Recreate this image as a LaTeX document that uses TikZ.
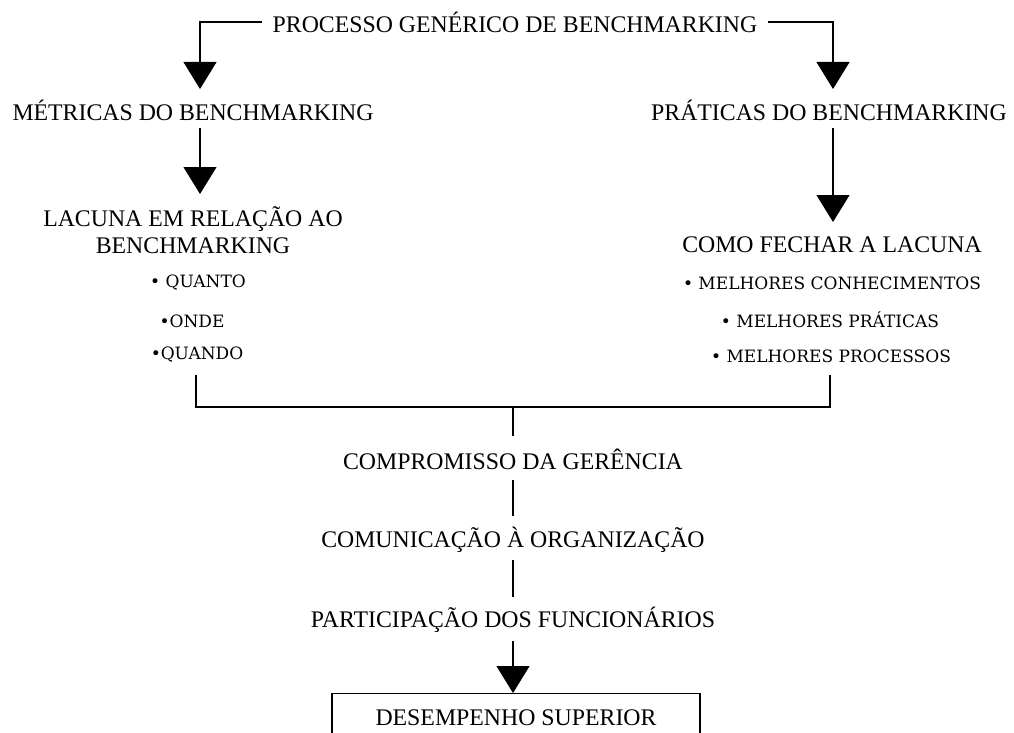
\documentclass[tikz,border=0pt]{standalone}
\usepackage{fontspec}
\setmainfont{Liberation Serif}
\newfontfamily\bulletfont{DejaVu Serif}
\usetikzlibrary{arrows.meta}
\tikzset{
  lbl/.style={font=\fontsize{23.8}{28}\selectfont, inner sep=0pt, align=center},
  sub/.style={font=\bulletfont\fontsize{17}{20}\selectfont, inner sep=0pt},
  conn/.style={line width=1.1pt, draw=black},
  arr/.style={conn, -{Triangle[width=33pt,length=27pt]}},
}
\begin{document}
\begin{tikzpicture}[x=1pt,y=-1pt]
\useasboundingbox (0,0) rectangle (1014,733);
\node[lbl] (title) at (515,22) {PROCESSO GENÉRICO DE BENCHMARKING};
\node[lbl] (met) at (193,110) {MÉTRICAS DO BENCHMARKING};
\node[lbl] (prat) at (829,110) {PRÁTICAS DO BENCHMARKING};
\node[lbl, font=\fontsize{23.8}{27}\selectfont] (lac) at (193,230) {LACUNA EM RELAÇÃO AO\\BENCHMARKING};
\node[sub] (q1) at (198,283) {• QUANTO};
\node[sub] (q2) at (192,321) {•ONDE};
\node[sub] (q3) at (197,355) {•QUANDO};
\node[lbl] (como) at (832,245) {COMO FECHAR A LACUNA};
\node[sub] (m1) at (832,283) {• MELHORES CONHECIMENTOS};
\node[sub] (m2) at (830,320) {• MELHORES PRÁTICAS};
\node[sub] (m3) at (831,356) {• MELHORES PROCESSOS};
\node[lbl] (comp) at (513,459) {COMPROMISSO DA GERÊNCIA};
\node[lbl] (comu) at (513,540) {COMUNICAÇÃO À ORGANIZAÇÃO};
\node[lbl] (part) at (513,620) {PARTICIPAÇÃO DOS FUNCIONÁRIOS};
\node[draw, line width=1.1pt, minimum width=368pt, minimum height=50pt, inner sep=0pt,
      anchor=north] (box) at (516,693) {};
\node[lbl] (boxtxt) at (516,718) {DESEMPENHO SUPERIOR};
% coordinates
\coordinate (tl) at (262,22);
\coordinate (tr) at (768,22);
\coordinate (a1) at (200,89);
\coordinate (a2) at (833,89);
\coordinate (b1s) at (200,128);
\coordinate (b1e) at (200,194);
\coordinate (b2s) at (833,128);
\coordinate (b2e) at (833,222);
\coordinate (L) at (196,375);
\coordinate (R) at (830,375);
\coordinate (J) at (513,407);
\coordinate (c1) at (513,436);
\coordinate (c2) at (513,480);
\coordinate (c3) at (513,516);
\coordinate (c4) at (513,560);
\coordinate (c5) at (513,597);
\coordinate (c6) at (513,641);
\coordinate (c7) at (513,693);
% connectors
\draw[arr] (tl) -| (a1);
\draw[arr] (tr) -| (a2);
\draw[arr] (b1s) -- (b1e);
\draw[arr] (b2s) -- (b2e);
\draw[conn] (L) |- (J) -| (R);
\draw[conn] (J) -- (c1);
\draw[conn] (c2) -- (c3);
\draw[conn] (c4) -- (c5);
\draw[arr] (c6) -- (c7);
\end{tikzpicture}
\end{document}
